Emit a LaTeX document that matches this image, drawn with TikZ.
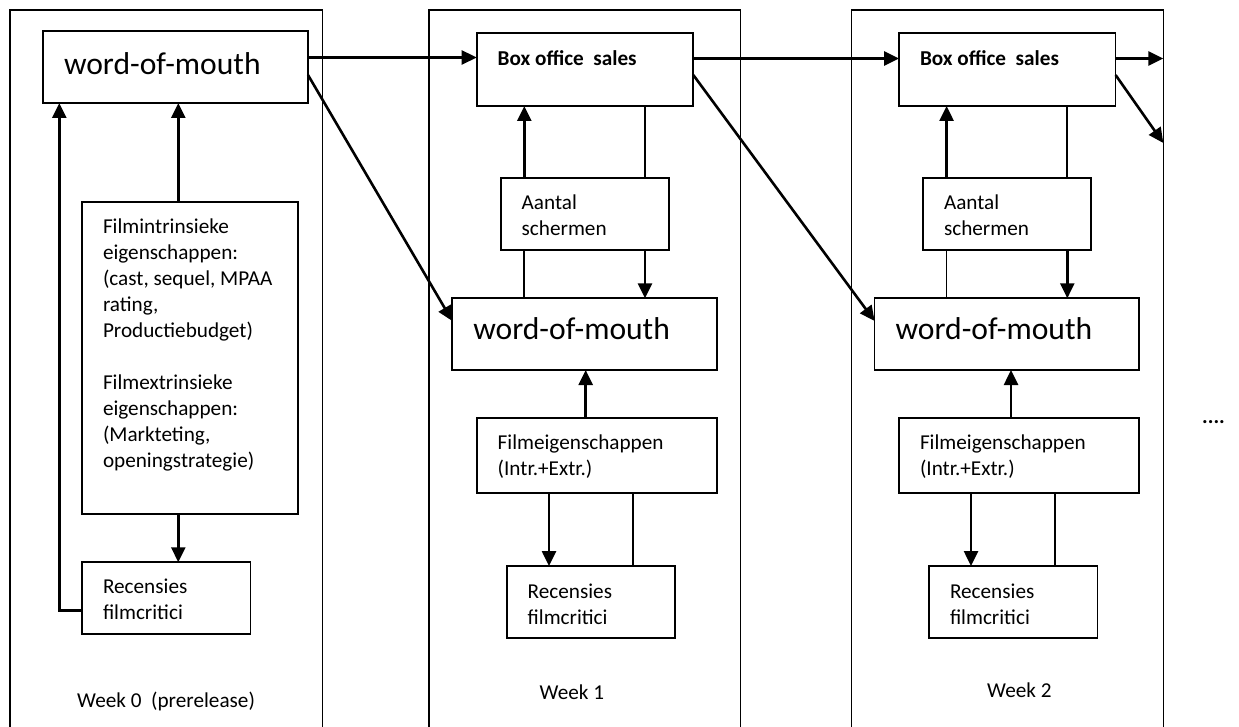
\documentclass[tikz,border=0pt]{standalone}
\usepackage{fontspec}
\setmainfont{Carlito}
\usetikzlibrary{arrows.meta}
\newcommand{\smallfnt}{\fontsize{21.2pt}{26pt}\selectfont}
\newcommand{\largefnt}{\fontsize{31.6pt}{38pt}\selectfont}
\newcommand{\bxt}[4]{\parbox[c][#1pt][t]{#2pt}{\raggedright\parindent=0pt\leftskip=21pt\rule{0pt}{#3pt}#4}}
\begin{document}
\begin{tikzpicture}[x=1pt,y=-1pt,
  blk/.style={draw, line width=1.7pt, inner sep=0pt, outer sep=0pt, anchor=north west, fill=white, font=\smallfnt},
  lbl/.style={inner sep=0pt, font=\smallfnt},
  arr/.style={line width=2.6pt, -{Triangle[length=15pt,width=14pt]}},
  ln/.style={line width=1.7pt},
  frame/.style={line width=1.5pt}]
\useasboundingbox (0,0) rectangle (1239,727);
\fill[white] (0,0) rectangle (1239,727);
% column frames
\draw[frame] (10,730) -- (10,10) -- (322.3,10) -- (322.3,730);
\draw[frame] (429,730) -- (429,10) -- (740.7,10) -- (740.7,730);
\draw[frame] (851.3,730) -- (851.3,10) -- (1163.3,10) -- (1163.3,730);
% week 0
\node[blk,font=\largefnt] (wom0) at (43,31) {\bxt{72}{265}{44}{word-of-mouth}};
\node[blk] (fi0) at (82,202.3) {\bxt{311.7}{216}{31}{Filmintrinsieke\\eigenschappen:\\(cast, sequel, MPAA\\rating,\\Productiebudget)\\[26pt]Filmextrinsieke\\eigenschappen:\\(Markteting,\\openingstrategie)}};
\node[blk] (rec0) at (82,562.3) {\bxt{72}{168.4}{31}{Recensies\\filmcritici}};
% week 1
\node[blk] (bos1) at (476.7,33.3) {\bxt{72.7}{216.6}{32}{\textbf{Box office\ \ sales}}};
\node[blk] (ant1) at (500.7,178.3) {\bxt{72}{168.3}{31}{Aantal\\schermen}};
\node[blk,font=\largefnt] (wom1) at (452.3,298.3) {\bxt{71.7}{264.4}{41}{word-of-mouth}};
\node[blk] (fe1) at (476.7,418.3) {\bxt{74.4}{240}{31}{Filmeigenschappen\\(Intr.+Extr.)}};
\node[blk] (rec1) at (506.7,566) {\bxt{72.3}{168.6}{32}{Recensies\\filmcritici}};
% week 2
\node[blk] (bos2) at (899,33.3) {\bxt{72.7}{216.6}{32}{\textbf{Box office\ \ sales}}};
\node[blk] (ant2) at (923,178.3) {\bxt{72}{168.3}{31}{Aantal\\schermen}};
\node[blk,font=\largefnt] (wom2) at (874.6,298.3) {\bxt{71.7}{264.4}{41}{word-of-mouth}};
\node[blk] (fe2) at (899,418.3) {\bxt{74.4}{240}{31}{Filmeigenschappen\\(Intr.+Extr.)}};
\node[blk] (rec2) at (929,566) {\bxt{72.3}{168.6}{32}{Recensies\\filmcritici}};
% labels
\node[lbl,anchor=base west] (w0) at (77,707) {Week 0\ \ (prerelease)};
\node[lbl,anchor=base west] (w1) at (539.5,699) {Week 1};
\node[lbl,anchor=base west] (w2) at (987,697) {Week 2};
\node[lbl,anchor=base west,font=\smallfnt\bfseries] (dots) at (1202,423) {....};
\coordinate (end1) at (1163.3,58.5);
\coordinate (end2) at (1163.3,143);
% week 0 connectors
\draw[arr] (fi0.north -| 178.3,0) -- (wom0.south -| 178.3,0);
\draw[arr] (fi0.south -| 178.3,0) -- (rec0.north -| 178.3,0);
\draw[arr] (rec0.west |- 0,610.7) -| (wom0.south -| 59.3,0);
% week 1 connectors
\draw[arr] (ant1.north -| 524.3,0) -- (bos1.south -| 524.3,0);
\draw[ln] (bos1.south -| 645,0) -- (ant1.north -| 645,0);
\draw[ln] (wom1.north -| 524.3,0) -- (ant1.south -| 524.3,0);
\draw[arr] (ant1.south -| 645,0) -- (wom1.north -| 645,0);
\draw[arr] (fe1.north -| 585.7,0) -- (wom1.south -| 585.7,0);
\draw[arr] (fe1.south -| 549,0) -- (rec1.north -| 549,0);
\draw[ln] (fe1.south -| 632.7,0) -- (rec1.north -| 632.7,0);
% week 2 connectors
\draw[arr] (ant2.north -| 946.6,0) -- (bos2.south -| 946.6,0);
\draw[ln] (bos2.south -| 1067.3,0) -- (ant2.north -| 1067.3,0);
\draw[ln] (wom2.north -| 946.6,0) -- (ant2.south -| 946.6,0);
\draw[arr] (ant2.south -| 1067.3,0) -- (wom2.north -| 1067.3,0);
\draw[arr] (fe2.north -| 1011,0) -- (wom2.south -| 1011,0);
\draw[arr] (fe2.south -| 971,0) -- (rec2.north -| 971,0);
\draw[ln] (fe2.south -| 1055,0) -- (rec2.north -| 1055,0);
% between weeks
\draw[arr] (wom0.east |- 0,57.5) -- (bos1.west |- 0,57.5);
\draw[arr] (bos1.east |- 0,58.5) -- (bos2.west |- 0,58.5);
\draw[arr] (bos2.east |- 0,58.5) -- (end1);
\draw[arr] (wom0.east |- 0,75) -- (wom1.west |- 0,321);
\draw[arr] (bos1.east |- 0,75) -- (wom2.west |- 0,321);
\draw[arr] (bos2.east |- 0,75) -- (end2);
\end{tikzpicture}
\end{document}
